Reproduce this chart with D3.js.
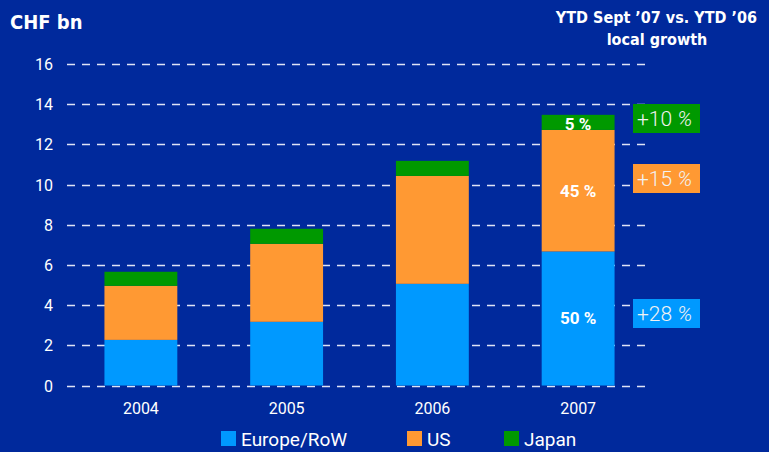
<!DOCTYPE html>
<html>
<head>
<meta charset="utf-8">
<script src="https://d3js.org/d3.v7.min.js"></script>
<style>
  body { margin: 0; background: #00299c; }
  svg { display: block; }
  text { fill: #fff; }
</style>
</head>
<body>
<div id="container"></div>
<script>
// chart data
var years = ["2004", "2005", "2006", "2007"];
var europe = [2.27, 3.17, 5.06, 6.67];
var us = [2.69, 3.88, 5.37, 6.05];
var japan = [0.70, 0.75, 0.75, 0.75];
var yTicks = [0, 2, 4, 6, 8, 10, 12, 14, 16];
var seriesNames = ["Europe/RoW", "US", "Japan"];
var shares2007 = ["50 %", "45 %", "5 %"];
var growth = ["+28", "+15", "+10"];

const width = 769, height = 452;
const colors = ["#0099ff", "#ff9933", "#009900"];
const titleFont = "'Liberation Sans Narrow', 'DejaVu Sans Condensed', sans-serif";

var svg = d3.select("#container").append("svg")
    .attr("width", width)
    .attr("height", height)
    .style("background", "#00299c");

var x = d3.scaleBand()
    .domain(years)
    .range([68, 651])
    .paddingInner(0.5)
    .paddingOuter(0.25);

var y = d3.scaleLinear()
    .domain([0, 16])
    .range([385.5, 64]);

// dashed gridlines (behind bars)
svg.append("g")
  .selectAll("line")
  .data(yTicks)
  .enter().append("line")
    .attr("x1", 67).attr("x2", 645)
    .attr("y1", d => Math.round(y(d)) + 0.5)
    .attr("y2", d => Math.round(y(d)) + 0.5)
    .attr("stroke", "#dfe3f5")
    .attr("stroke-width", 1.3)
    .attr("stroke-dasharray", "8,7");

// y labels
svg.append("g")
  .selectAll("text")
  .data(yTicks)
  .enter().append("text")
    .attr("x", 53)
    .attr("y", d => y(d) + 6)
    .attr("text-anchor", "end")
    .style("font", "16px Roboto")
    .text(d => d);

// stacked bars
var table = years.map((yr, i) => ({year: yr, europe: europe[i], us: us[i], japan: japan[i]}));
var stack = d3.stack().keys(["europe", "us", "japan"])(table);

svg.append("g")
  .selectAll("g")
  .data(stack)
  .enter().append("g")
    .attr("fill", (d, i) => colors[i])
  .selectAll("rect")
  .data(d => d)
  .enter().append("rect")
    .attr("x", d => x(d.data.year))
    .attr("width", x.bandwidth())
    .attr("y", d => y(d[1]))
    .attr("height", d => y(d[0]) - y(d[1]));

// shares inside the 2007 bar
var last = years.length - 1;
svg.append("g")
  .selectAll("text")
  .data(stack)
  .enter().append("text")
    .attr("x", x(years[last]) + x.bandwidth() / 2)
    .attr("y", (d, i) => i == 2 ? y(d[last][1]) + 15 : (y(d[last][0]) + y(d[last][1])) / 2 + 6)
    .attr("text-anchor", "middle")
    .style("font", "bold 17px Roboto")
    .text((d, i) => shares2007[i]);

// growth boxes on the right
var growthY = [313.5, 178.5, 118.5];
var gBoxes = svg.append("g")
  .selectAll("g")
  .data(growth)
  .enter().append("g")
    .attr("transform", (d, i) => `translate(633, ${growthY[i] - 14.5})`);
gBoxes.append("rect")
    .attr("width", 67).attr("height", 29)
    .attr("fill", (d, i) => colors[i]);
var gText = gBoxes.append("text")
    .attr("x", 4).attr("y", 22)
    .style("font", "300 21px Roboto")
    .style("fill", "#f2f2f2");
gText.append("tspan").text(d => d + " ");
gText.append("tspan").style("font-style", "italic").text("%");

// x labels
svg.append("g")
  .selectAll("text")
  .data(years)
  .enter().append("text")
    .attr("x", d => x(d) + x.bandwidth() / 2)
    .attr("y", 414)
    .attr("text-anchor", "middle")
    .style("font", "16px Roboto")
    .text(d => d);

// legend
var legendX = [221, 407, 504];
var leg = svg.append("g")
  .selectAll("g")
  .data(seriesNames)
  .enter().append("g")
    .attr("transform", (d, i) => `translate(${legendX[i]}, 431)`);
leg.append("rect")
    .attr("width", 15).attr("height", 15)
    .attr("fill", (d, i) => colors[i]);
leg.append("text")
    .attr("x", 20).attr("y", 15)
    .style("font", "19px Roboto")
    .text(d => d);

// titles
svg.append("text")
    .attr("x", 10).attr("y", 29)
    .style("font", "bold 20px " + titleFont)
    .text("CHF bn");
svg.append("text")
    .attr("x", 757).attr("y", 23)
    .attr("text-anchor", "end")
    .style("font", "bold 16px " + titleFont)
    .text("YTD Sept \u201907 vs. YTD \u201906");
svg.append("text")
    .attr("x", 657).attr("y", 45)
    .attr("text-anchor", "middle")
    .style("font", "bold 16px " + titleFont)
    .text("local growth");
</script>
</body>
</html>
